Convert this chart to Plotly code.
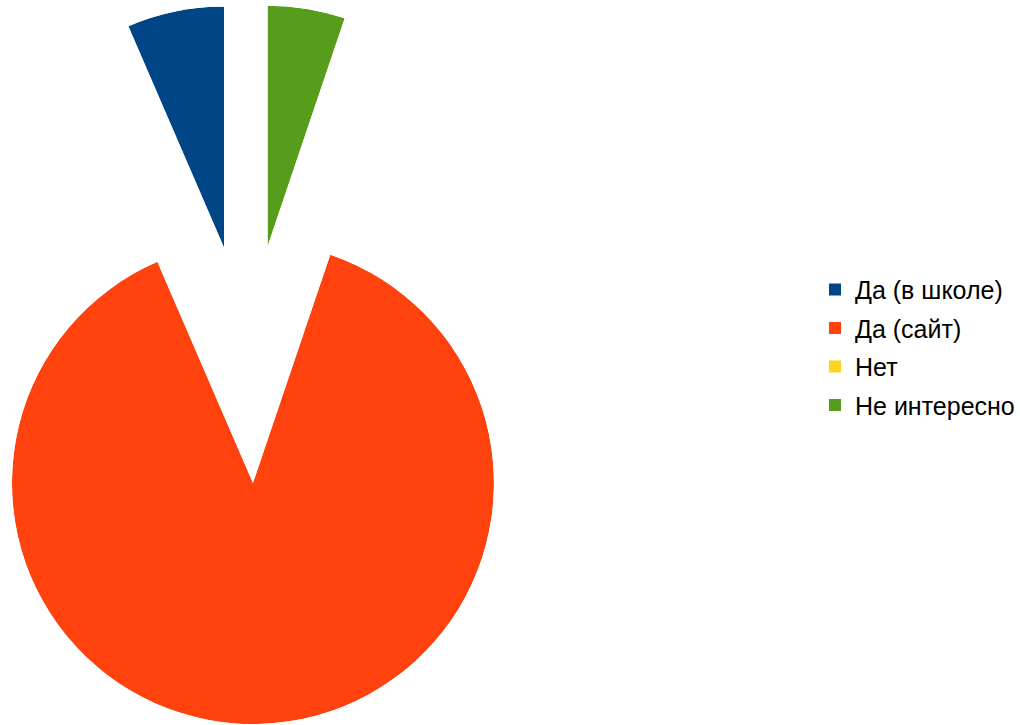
import numpy as np
import plotly.graph_objects as go

# ---- data ----
labels = ["Да (в школе)", "Да (сайт)", "Нет", "Не интересно"]
values = [5, 68, 0, 4]
colors = ["#004586", "#ff420e", "#ffd320", "#579d1c"]

# ---- layout constants (pixels) ----
W, H = 1020, 725
CX, CY = 248.1, 364.1      # centre of the un-exploded pie
R = 241.0                  # pie radius
PULL = 0.494               # explode distance as a fraction of radius
START = 90.0               # first slice starts at 12 o'clock, counter-clockwise


def sector_bbox(a0, a1):
    angs = [a0, a1] + [k * 90 for k in range(int(np.ceil(a0 / 90)), int(np.floor(a1 / 90)) + 1)]
    xs = [np.cos(np.radians(a)) for a in angs] + [0.0]
    ys = [np.sin(np.radians(a)) for a in angs] + [0.0]
    return min(xs), min(ys), max(xs), max(ys)


def clamp(v):
    return float(min(1.0, max(0.0, v)))


total = float(sum(values))
spans = [v / total * 360.0 for v in values]
starts = START + np.concatenate([[0.0], np.cumsum(spans)[:-1]])

fig = go.Figure()
layout_polars = {}
sub_idx = 0
last_sub = None
for lab, val, col, span, s in zip(labels, values, colors, spans, starts):
    mid = s + span / 2.0
    if span > 0:
        sub_idx += 1
        name = "polar" if sub_idx == 1 else f"polar{sub_idx}"
        s0 = s % 360.0
        s1 = s0 + span
        b0, b1, b2, b3 = sector_bbox(s0, s1)
        tx = CX + PULL * R * np.cos(np.radians(mid))
        ty = CY - PULL * R * np.sin(np.radians(mid))
        dom_x = [clamp((tx + R * b0) / W), clamp((tx + R * b2) / W)]
        dom_y = [clamp((H - (ty - R * b1)) / H), clamp((H - (ty - R * b3)) / H)]
        layout_polars[name] = dict(
            domain=dict(x=dom_x, y=dom_y),
            sector=[s0, s1],
            bgcolor="rgba(0,0,0,0)",
            bargap=0,
            hole=0,
            radialaxis=dict(visible=False, range=[0, 1], showgrid=False, showline=False,
                            showticklabels=False, ticks=""),
            angularaxis=dict(visible=False, rotation=0, direction="counterclockwise",
                             showgrid=False, showline=False, showticklabels=False, ticks=""),
        )
        last_sub = name
    subplot = last_sub
    fig.add_trace(go.Barpolar(
        r=[1], theta=[mid % 360.0], width=[span],
        name=lab, legendgroup=lab,
        marker=dict(color=col, line=dict(width=0)),
        subplot=subplot,
        hovertemplate=f"{lab}: {val}<extra></extra>",
    ))

fig.update_layout(
    width=W, height=H,
    margin=dict(l=0, r=0, t=0, b=0, autoexpand=False),
    paper_bgcolor="white",
    plot_bgcolor="white",
    showlegend=True,
    legend=dict(
        x=815 / W, y=0.521, xanchor="left", yanchor="middle",
        font=dict(family="Liberation Sans, Arial, sans-serif", size=25, color="#000000"),
        bgcolor="rgba(0,0,0,0)",
        traceorder="grouped",
        tracegroupgap=3,
    ),
    **layout_polars,
)

fig.write_html("out.html", config={"displayModeBar": False},
               post_script="document.body.style.margin='0';")
